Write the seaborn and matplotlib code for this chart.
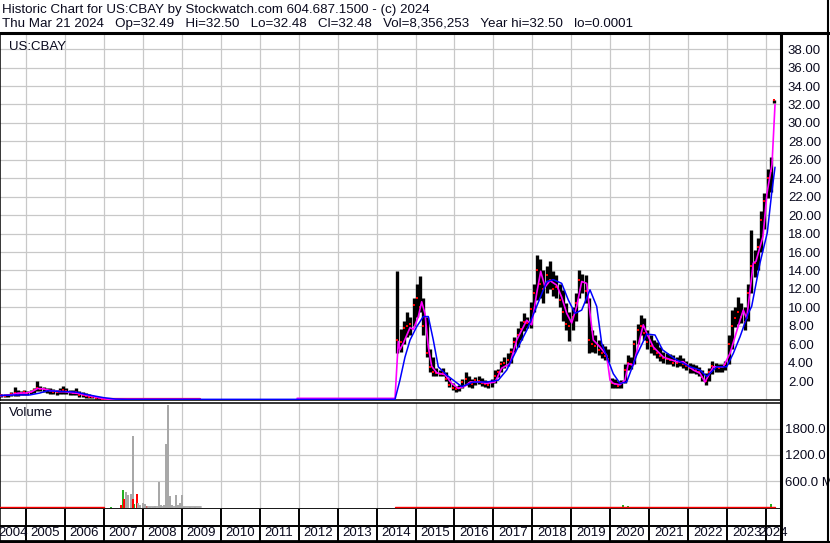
import pandas as pd
import matplotlib
matplotlib.use("Agg")
import matplotlib.pyplot as plt
from matplotlib.lines import Line2D
import seaborn as sns

# ------------------------------------------------------------
# Text
# ------------------------------------------------------------
title_line1 = "Historic Chart for US:CBAY by Stockwatch.com 604.687.1500 - (c) 2024"
title_line2 = ("Thu Mar 21 2024   Op=32.49   Hi=32.50   Lo=32.48   Cl=32.48   "
               "Vol=8,356,253   Year hi=32.50   lo=0.0001")
symbol = "US:CBAY"

years = list(range(2004, 2025))
price_ticks = list(range(2, 40, 2))
vol_ticks = [600, 1200, 1800]
vol_labels = ["600.0 M", "1200.0 M", "1800.0 M"]

# ------------------------------------------------------------
# Monthly price bars
# ------------------------------------------------------------
# May 2004 .. Dec 2006
early_start = "2004-05-01"
early_hi = [0.6, 0.55, 0.6, 0.8, 1.4, 1.0, 0.9, 1.0,
            0.9, 1.0, 1.3, 2.0, 1.5, 1.4, 1.3, 1.2, 1.1, 1.0, 1.2, 1.5,
            1.2, 1.0, 1.0, 1.2, 0.9, 0.8, 0.7, 0.6, 0.45, 0.4, 0.3, 0.2]
early_lo = [0.3, 0.3, 0.3, 0.35, 0.4, 0.4, 0.5, 0.5,
            0.5, 0.6, 0.7, 0.9, 0.9, 0.8, 0.7, 0.6, 0.6, 0.5, 0.6, 0.6,
            0.6, 0.5, 0.5, 0.5, 0.3, 0.3, 0.2, 0.2, 0.15, 0.1, 0.08, 0.05]
early_cl = [0.45, 0.4, 0.45, 0.6, 0.7, 0.6, 0.7, 0.8,
            0.7, 0.8, 1.0, 1.2, 1.1, 1.1, 1.0, 0.9, 0.8, 0.8, 0.9, 1.0,
            0.9, 0.8, 0.7, 0.8, 0.5, 0.5, 0.4, 0.3, 0.3, 0.2, 0.15, 0.1]

# dormant stretch, price ~0
dormant_t = [2007.0, 2009.47]
dormant_px = [0.03, 0.03]

# Jul 2014 .. Mar 2024
main_start = "2014-07-01"
main_hi = [13.9, 7.7, 8.5, 9.5, 9.0, 11.0,
           12.5, 13.4, 11.0, 9.0, 5.5, 4.6, 3.4, 3.2, 3.4, 3.0, 2.3, 1.8,
           1.5, 1.6, 2.2, 3.0, 2.5, 2.2, 2.4, 2.6, 2.3, 2.1, 2.0, 2.2,
           3.2, 3.3, 4.2, 4.6, 5.0, 5.6, 6.8, 7.8, 8.5, 9.4, 9.0, 10.6,
           12.5, 15.7, 15.2, 14.0, 14.5, 15.0, 13.9, 13.5, 12.5, 11.9, 10.5, 9.5,
           10.0, 11.5, 14.0, 13.6, 13.5, 11.0, 7.5, 7.0, 6.5, 6.0, 5.8, 5.5,
           2.3, 2.2, 2.0, 2.1, 3.8, 4.8, 4.6, 6.5, 8.2, 9.2, 8.8, 7.5,
           7.0, 6.5, 6.2, 5.7, 5.2, 5.0, 4.9, 4.8, 4.6, 4.8, 4.5, 4.2,
           4.0, 3.8, 3.7, 3.5, 3.2, 2.9, 3.4, 4.2, 4.0, 3.9, 3.8, 4.2,
           7.0, 9.7, 10.0, 11.1, 10.5, 10.0, 12.5, 18.4, 16.2, 17.5, 20.5, 22.4,
           25.0, 26.3, 32.5]
main_lo = [5.0, 5.2, 6.0, 6.8, 7.0, 8.0,
           9.0, 9.5, 7.0, 4.6, 3.0, 2.5, 2.5, 2.5, 2.6, 2.0, 1.4, 1.0,
           0.85, 0.9, 1.2, 1.6, 1.4, 1.3, 1.6, 1.7, 1.5, 1.4, 1.3, 1.4,
           1.8, 2.4, 3.0, 3.4, 3.6, 4.0, 5.2, 5.7, 6.5, 7.4, 7.8, 7.8,
           9.5, 10.8, 11.0, 10.5, 11.5, 12.0, 11.2, 11.0, 10.0, 8.5, 7.5, 6.4,
           7.5, 8.5, 11.0, 11.5, 10.5, 5.0, 5.2, 5.0, 4.8, 4.5, 4.3, 4.1,
           1.3, 1.3, 1.2, 1.3, 1.8, 3.2, 3.3, 3.8, 6.0, 7.0, 6.5, 5.5,
           5.0, 4.8, 4.5, 4.2, 4.0, 3.9, 3.9, 3.6, 3.5, 3.6, 3.4, 3.2,
           2.9, 2.9, 2.8, 2.6, 2.0, 1.6, 2.0, 2.8, 3.0, 3.0, 3.0, 3.2,
           3.8, 5.5, 7.9, 8.2, 8.3, 7.5, 8.5, 11.5, 13.3, 14.0, 16.0, 18.5,
           21.9, 22.5, 32.2]
main_cl = [6.5, 6.2, 7.8, 8.0, 8.2, 10.2,
           11.0, 10.0, 8.0, 5.0, 3.5, 3.0, 2.9, 2.8, 2.9, 2.2, 1.6, 1.2,
           1.1, 1.3, 1.9, 2.2, 1.8, 1.7, 2.1, 2.0, 1.8, 1.7, 1.6, 1.9,
           2.6, 3.0, 3.8, 4.0, 4.3, 5.2, 6.2, 7.0, 7.6, 8.4, 8.3, 9.8,
           11.5, 14.0, 12.5, 12.0, 13.5, 13.0, 12.0, 12.2, 10.8, 9.5, 8.2, 8.0,
           9.0, 10.5, 13.0, 12.8, 11.8, 6.5, 6.0, 5.8, 5.4, 5.0, 4.7, 4.4,
           1.8, 1.7, 1.5, 1.8, 3.2, 4.0, 3.9, 6.0, 7.5, 8.0, 7.2, 6.2,
           5.8, 5.5, 5.0, 4.7, 4.5, 4.4, 4.3, 4.0, 4.0, 4.1, 3.8, 3.6,
           3.4, 3.3, 3.2, 3.0, 2.4, 2.0, 3.0, 3.6, 3.5, 3.4, 3.5, 3.8,
           6.0, 8.0, 8.8, 9.5, 9.0, 8.4, 11.5, 14.5, 14.8, 16.5, 19.5, 21.5,
           24.0, 24.8, 32.48]

# ------------------------------------------------------------
# Moving averages (decimal years)
# ------------------------------------------------------------
fast_early_t = [2004.33, 2004.6, 2004.8, 2005.0, 2005.15, 2005.3, 2005.45, 2005.65,
                2005.85, 2006.0, 2006.15, 2006.35, 2006.55, 2006.75, 2006.95, 2007.1, 2009.47]
fast_early_v = [0.4, 0.5, 0.7, 0.7, 0.85, 1.2, 1.15, 0.95,
                0.85, 0.85, 0.75, 0.65, 0.45, 0.3, 0.12, 0.04, 0.03]

fast_t = [2011.96, 2014.474, 2014.558, 2014.60, 2014.687, 2014.859, 2014.944, 2015.072,
          2015.159, 2015.244, 2015.329, 2015.416, 2015.544, 2015.757, 2015.929, 2016.099,
          2016.271, 2016.399, 2016.656, 2016.828, 2017.041, 2017.213, 2017.426, 2017.598,
          2017.855, 2017.983, 2018.111, 2018.214, 2018.325, 2018.453, 2018.625, 2018.753,
          2018.882, 2019.010, 2019.138, 2019.267, 2019.395, 2019.480, 2019.565, 2019.736,
          2019.909, 2019.994, 2020.078, 2020.250, 2020.379, 2020.463, 2020.592, 2020.848,
          2020.936, 2021.105, 2021.362, 2021.706, 2021.875, 2022.132, 2022.304, 2022.432,
          2022.646, 2022.902, 2023.074, 2023.331, 2023.416, 2023.503, 2023.673, 2023.742,
          2023.922, 2024.025, 2024.153, 2024.230]
fast_v = [0.13, 0.13, 6.3, 5.4, 6.1, 7.8, 7.6, 9.0,
          10.6, 9.3, 5.7, 3.6, 2.9, 2.7, 1.75, 1.2,
          1.45, 1.9, 1.9, 1.75, 1.9, 3.4, 3.9, 6.45,
          8.6, 8.1, 11.5, 13.9, 12.2, 12.9, 12.4, 11.1,
          9.35, 8.3, 10.1, 12.8, 12.6, 9.35, 6.45, 5.7,
          4.8, 2.1, 1.75, 1.6, 2.1, 3.9, 3.7, 8.1,
          7.2, 5.7, 4.6, 4.1, 4.1, 3.2, 2.85, 1.9,
          3.55, 3.55, 5.0, 8.6, 9.7, 8.8, 14.8, 15.0,
          17.7, 22.4, 25.5, 32.0]

slow_t = [2004.33, 2004.8, 2005.1, 2005.35, 2005.55, 2005.8, 2006.1, 2006.3,
          2006.55, 2006.8, 2007.0, 2007.3, 2007.6, 2014.474,
          2014.60, 2014.730, 2014.859, 2015.031, 2015.200, 2015.329, 2015.457, 2015.585,
          2015.801, 2015.970, 2016.186, 2016.484, 2016.828, 2017.126, 2017.342, 2017.598,
          2017.855, 2018.111, 2018.368, 2018.538, 2018.753, 2018.923, 2019.095, 2019.267,
          2019.480, 2019.652, 2019.780, 2020.078, 2020.250, 2020.422, 2020.678, 2020.936,
          2021.149, 2021.341, 2021.662, 2022.047, 2022.304, 2022.476, 2022.733, 2022.989,
          2023.159, 2023.331, 2023.544, 2023.631, 2023.844, 2024.032, 2024.145, 2024.230]
slow_v = [0.45, 0.5, 0.5, 0.7, 0.95, 0.9, 0.85, 0.8,
          0.55, 0.35, 0.2, 0.05, 0.02, 0.02,
          2.1, 4.6, 6.45, 7.9, 9.0, 9.0, 6.45, 3.55,
          2.65, 2.1, 1.4, 1.9, 1.9, 2.1, 3.2, 5.4,
          7.5, 10.1, 12.8, 13.0, 12.6, 10.8, 9.35, 9.7,
          11.9, 10.1, 6.1, 2.8, 1.75, 1.9, 4.8, 7.1,
          7.0, 5.4, 4.4, 3.55, 3.2, 2.5, 3.55, 3.55,
          5.0, 6.8, 9.35, 10.1, 14.8, 18.1, 22.4, 25.2]

# ------------------------------------------------------------
# Volume (millions)
# ------------------------------------------------------------
vol_t = [2007.175, 2007.43, 2007.483, 2007.508, 2007.567, 2007.626, 2007.688, 2007.739,
         2007.755, 2007.786, 2007.842, 2007.875, 2007.927, 2008.0, 2008.055, 2008.106,
         2008.18, 2008.26, 2008.31, 2008.407, 2008.466, 2008.543, 2008.594, 2008.638,
         2008.697, 2008.75, 2008.843, 2008.90, 2008.954, 2008.997, 2009.056, 2009.21,
         2009.34, 2020.33, 2020.45, 2024.12]
vol_v = [23, 60, 404, 205, 365, 274, 312, 1642,
         205, 90, 319, 100, 60, 110, 80, 35,
         15, 20, 45, 593, 50, 60, 1452, 2343,
         270, 60, 290, 60, 114, 274, 20, 15,
         15, 55, 40, 70]
vol_kind = ["up", "down", "up", "down", "flat", "flat", "flat", "flat",
            "down", "up", "down", "flat", "flat", "flat", "flat", "down",
            "flat", "flat", "flat", "flat", "flat", "flat", "flat", "flat",
            "flat", "flat", "flat", "flat", "flat", "flat", "flat", "flat",
            "flat", "up", "up", "up"]
vol_colors = {"up": "#22b022", "down": "#ff0000", "flat": "#a8a8a8"}
# periods with thin day-to-day volume along the baseline
trade_spans = [(2004.33, 2007.0), (2014.47, 2024.23)]


def decimal_year(dates):
    return dates.year + (dates.dayofyear - 1) / 365.25


def month_bars(start, hi, lo, cl):
    d = pd.date_range(start, periods=len(hi), freq="MS") + pd.Timedelta(days=14)
    return pd.DataFrame({"t": decimal_year(d), "hi": hi, "lo": lo, "cl": cl})


bars = pd.concat([month_bars(early_start, early_hi, early_lo, early_cl),
                  month_bars(main_start, main_hi, main_lo, main_cl)], ignore_index=True)

# ------------------------------------------------------------
# Layout
# ------------------------------------------------------------
sns.set_style("white")
plt.rcParams["font.family"] = ["Liberation Sans", "DejaVu Sans"]
TXT = "#0a0a1e"
GRID = "#c8c8c8"
W, H = 830, 543
XMIN, XMAX = 2005 - 26 / 38.95, 2005 + 755 / 38.95


def box(x0, y0, x1, y1):
    return [x0 / W, 1 - y1 / H, (x1 - x0) / W, (y1 - y0) / H]


fig = plt.figure(figsize=(W / 100, H / 100), dpi=100)
ax_p = fig.add_axes(box(0, 33, 781, 400))
ax_v = fig.add_axes(box(0, 403, 781, 509))
ax_x = fig.add_axes(box(0, 509, 781, 541))

for ax in (ax_p, ax_v, ax_x):
    ax.set_xticks(years)
    ax.tick_params(axis="x", labelbottom=False, length=0)
    for s in ax.spines.values():
        s.set_color("black")
        s.set_linewidth(1.1)
    ax.spines["right"].set_visible(False)

# ---- price panel ----
ax_p.vlines(bars["t"], bars["lo"], bars["hi"], color="black", linewidth=2.4, zorder=3)
sns.scatterplot(x=bars["t"], y=bars["cl"], color="#ff0000", marker="s", s=4,
                linewidth=0, ax=ax_p, zorder=4)
sns.lineplot(x=dormant_t, y=dormant_px, color="#ff0000", linewidth=1.6, ax=ax_p, zorder=4)
sns.lineplot(x=fast_early_t, y=fast_early_v, color="#ff00ff", linewidth=1.2, ax=ax_p, zorder=5)
sns.lineplot(x=fast_t, y=fast_v, color="#ff00ff", linewidth=1.2, ax=ax_p, zorder=5)
sns.lineplot(x=slow_t, y=slow_v, color="#0000ff", linewidth=1.1, ax=ax_p, zorder=6)
ax_p.set_xlabel("")
ax_p.set_ylabel("")
ax_p.set_ylim(-0.05, 39.75)
ax_p.set_yticks(price_ticks)
ax_p.set_yticklabels([f"{v:.2f}" for v in price_ticks])
ax_p.yaxis.tick_right()
ax_p.tick_params(axis="y", length=0, pad=5, labelsize=9.5, labelcolor=TXT)
ax_p.grid(True, color=GRID, linewidth=0.9)
ax_p.spines["top"].set_visible(False)
ax_p.text(9 / 781, 1 - 8 / 367, symbol, transform=ax_p.transAxes, ha="left", va="top",
          fontsize=9.5, color=TXT)

# ---- volume panel ----
ax_v.bar(vol_t, vol_v, width=0.045, color=[vol_colors[k] for k in vol_kind],
         linewidth=0, zorder=3)
for a, b in trade_spans:
    ax_v.plot([a, b], [10, 10], color="#ff0000", linewidth=1.0, zorder=3)
ax_v.plot([2008.1, 2009.5], [10, 10], color="#a8a8a8", linewidth=1.3, zorder=3)
ax_v.set_ylim(-34, 2384)
ax_v.set_yticks(vol_ticks)
ax_v.set_yticklabels(vol_labels)
ax_v.yaxis.tick_right()
ax_v.tick_params(axis="y", length=0, pad=3, labelsize=9.5, labelcolor=TXT)
ax_v.grid(True, color=GRID, linewidth=0.9)
ax_v.spines["bottom"].set_linewidth(2)
ax_v.text(9 / 781, 1 - 4 / 106, "Volume", transform=ax_v.transAxes, ha="left", va="top",
          fontsize=9.5, color=TXT)

# ---- year strip ----
ax_x.set_ylim(0, 1)
ax_x.set_yticks([])
ax_x.spines["top"].set_visible(False)
ax_x.spines["bottom"].set_linewidth(2)
ax_x.vlines(years, 0, 1, color="black", linewidth=1.4)
ax_x.axhline(15 / 32, color="black", linewidth=1.4)
for y in years:
    lo_edge, hi_edge = max(y, XMIN), min(y + 1, XMAX)
    ax_x.text((lo_edge + hi_edge) / 2, 7.5 / 32, str(y), ha="center", va="center",
              fontsize=9.5, color=TXT, clip_on=False)

# same time window for all three panels (set last so plotting cannot move it)
for ax in (ax_p, ax_v, ax_x):
    ax.set_xlim(XMIN, XMAX)

# ---- header and frame ----
fig.text(2 / W, 1 - 12.5 / H, title_line1, ha="left", va="baseline", fontsize=9.6, color=TXT)
fig.text(2 / W, 1 - 27.5 / H, title_line2, ha="left", va="baseline", fontsize=9.6, color=TXT)
fig.add_artist(Line2D([0, 1], [1 - 33 / H] * 2, color="black", linewidth=2.2))
fig.add_artist(Line2D([781 / W] * 2, [0, 1 - 33 / H], color="black", linewidth=2.2))
fig.add_artist(Line2D([828 / W] * 2, [0, 1], color="black", linewidth=1.5))
fig.add_artist(Line2D([0, 1], [1.5 / H] * 2, color="black", linewidth=1.5))

fig.savefig("out.png", dpi=100)
